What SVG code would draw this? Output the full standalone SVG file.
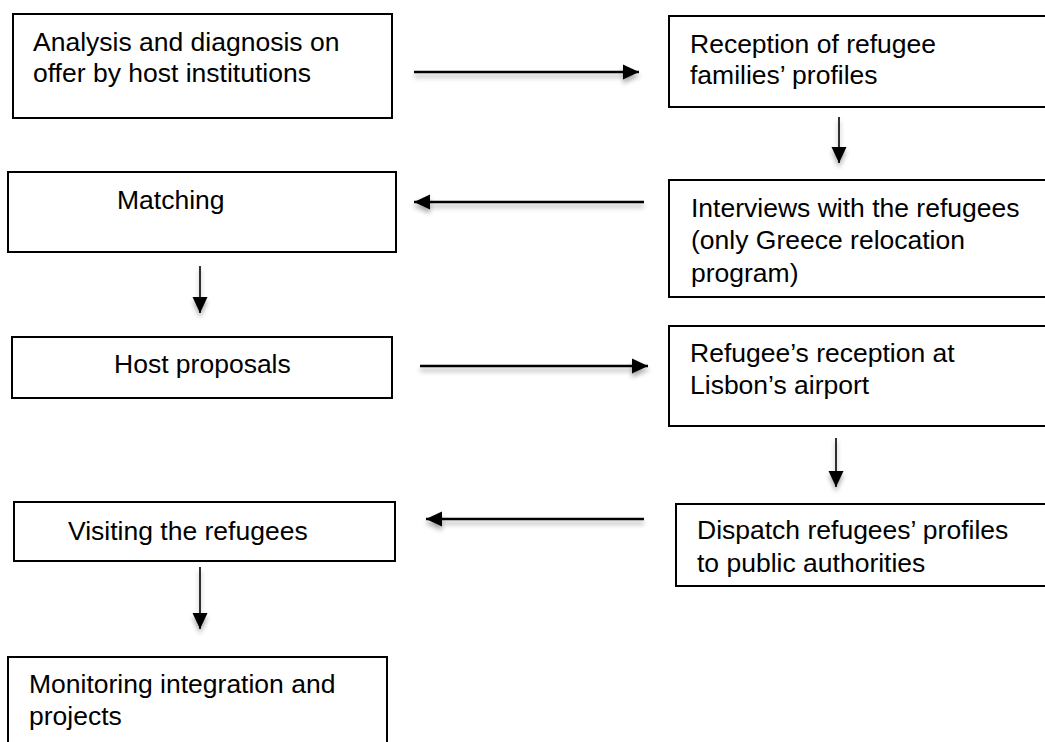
<svg xmlns="http://www.w3.org/2000/svg" width="1045" height="742" viewBox="0 0 1045 742">
<style>
.box{fill:#fff;stroke:#000;stroke-width:2}
.t{font-family:"Liberation Sans",Arial,sans-serif;font-size:26.5px;fill:#000}
.h{stroke:#000;stroke-width:2.5;fill:none}
.v{stroke:#000;stroke-width:1.6;fill:none}
</style>
<defs>
<marker id="ah" markerUnits="userSpaceOnUse" markerWidth="18" markerHeight="18" viewBox="0 0 18 18" refX="16" refY="9" orient="auto">
<path d="M0,1.5 L16,9 L0,16.5 Z" fill="#000"/>
</marker>
<filter id="sh" x="-10%" y="-50%" width="120%" height="300%">
<feGaussianBlur in="SourceAlpha" stdDeviation="2.5" result="b"/>
<feOffset dy="4" result="o"/>
<feComponentTransfer in="o" result="s"><feFuncA type="linear" slope="0.35"/></feComponentTransfer>
<feMerge><feMergeNode in="s"/><feMergeNode in="SourceGraphic"/></feMerge>
</filter>
</defs>
<g id="n1"><rect class="box" x="13" y="14" width="379" height="104"/>
<text class="t" x="33" y="51">Analysis and diagnosis on</text>
<text class="t" x="33" y="82">offer by host institutions</text></g>
<g id="n2"><rect class="box" x="669" y="16" width="390" height="91"/>
<text class="t" x="690" y="53">Reception of refugee</text>
<text class="t" x="690" y="84">families’ profiles</text></g>
<g id="n3"><rect class="box" x="669" y="180" width="390" height="117"/>
<text class="t" x="691" y="217">Interviews with the refugees</text>
<text class="t" x="691" y="249">(only Greece relocation</text>
<text class="t" x="691" y="282">program)</text></g>
<g id="n4"><rect class="box" x="8" y="172" width="388" height="80"/>
<text class="t" x="117" y="209">Matching</text></g>
<g id="n5"><rect class="box" x="12" y="337" width="380" height="61"/>
<text class="t" x="114" y="373">Host proposals</text></g>
<g id="n6"><rect class="box" x="669" y="326" width="390" height="100"/>
<text class="t" x="690" y="362">Refugee’s reception at</text>
<text class="t" x="690" y="394">Lisbon’s airport</text></g>
<g id="n7"><rect class="box" x="676" y="504" width="390" height="82"/>
<text class="t" x="697" y="539">Dispatch refugees’ profiles</text>
<text class="t" x="697" y="572">to public authorities</text></g>
<g id="n8"><rect class="box" x="14" y="502" width="381" height="59"/>
<text class="t" x="68" y="540">Visiting the refugees</text></g>
<g id="n9"><rect class="box" x="8" y="657" width="379" height="100"/>
<text class="t" x="29" y="693">Monitoring integration and</text>
<text class="t" x="29" y="725">projects</text></g>
<g id="connectors" filter="url(#sh)">
<line class="h" x1="414" y1="72" x2="639" y2="72" marker-end="url(#ah)"/>
<line class="v" x1="839" y1="117" x2="839" y2="163" marker-end="url(#ah)"/>
<line class="h" x1="644" y1="202" x2="414" y2="202" marker-end="url(#ah)"/>
<line class="v" x1="200" y1="266" x2="200" y2="313" marker-end="url(#ah)"/>
<line class="h" x1="420" y1="366" x2="648" y2="366" marker-end="url(#ah)"/>
<line class="v" x1="836" y1="438" x2="836" y2="487" marker-end="url(#ah)"/>
<line class="h" x1="644" y1="519" x2="426" y2="519" marker-end="url(#ah)"/>
<line class="v" x1="200" y1="567" x2="200" y2="629" marker-end="url(#ah)"/>
</g>
</svg>
